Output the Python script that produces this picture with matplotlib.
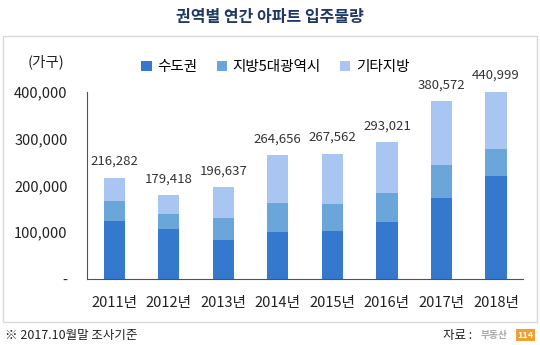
import matplotlib.pyplot as plt
from matplotlib.patches import Rectangle
import numpy as np

plt.rcParams['font.family'] = ['Noto Sans CJK KR', 'DejaVu Sans']

years = ['2011년', '2012년', '2013년', '2014년', '2015년', '2016년', '2017년', '2018년']
capital = [123000, 108000, 83500, 101300, 103400, 122700, 172800, 221000]
metro5 = [44000, 32000, 47000, 62000, 57000, 62000, 71200, 57000]
totals = [216282, 179418, 196637, 264656, 267562, 293021, 380572, 440999]
series_names = ['수도권', '지방5대광역시', '기타지방']
colors = ['#3579cf', '#6aa6d9', '#a9c5f2']

others = [t - c - m for t, c, m in zip(totals, capital, metro5)]
ymax = 400000

fig = plt.figure(figsize=(5.4, 3.45), dpi=100)
fig.patches.append(Rectangle((0.006, 0.067), 0.988, 0.83, transform=fig.transFigure,
                             fill=False, edgecolor='#d9d9d9', linewidth=1))

ax = fig.add_axes([0.161, 0.191, 0.808, 0.543])
x = np.arange(len(years))
w = 0.39
ax.bar(x, capital, w, color=colors[0], label=series_names[0])
ax.bar(x, metro5, w, bottom=capital, color=colors[1], label=series_names[1])
bottom2 = [c + m for c, m in zip(capital, metro5)]
ax.bar(x, others, w, bottom=bottom2, color=colors[2], label=series_names[2])

# 2018 bar is clipped at the axis max, label sits above the visible top
for xi, t in zip(x, totals):
    ax.annotate(f'{t:,}', (xi, min(t, ymax)), xytext=(0, 7), textcoords='offset points',
                ha='center', va='bottom', fontsize=9.5, color='#333333', annotation_clip=False)

ax.set_xlim(-0.5, len(years) - 0.5)
ax.set_ylim(0, ymax)
ax.set_yticks([0, 100000, 200000, 300000, 400000])
ax.set_yticklabels(['-', '100,000', '200,000', '300,000', '400,000'], fontsize=10.5, color='#222222')
ax.set_xticks(x)
ax.set_xticklabels(years, fontsize=10.5, color='#222222')
ax.tick_params(length=0)
ax.tick_params(axis='y', pad=14)
ax.tick_params(axis='x', pad=12)
for s in ['top', 'right']:
    ax.spines[s].set_visible(False)
ax.spines['left'].set_color('#44546a')
ax.spines['bottom'].set_color('#44546a')

fig.legend(loc='center', bbox_to_anchor=(0.51, 0.805), ncol=3, frameon=False,
           fontsize=10.5, handlelength=0.7, handleheight=0.7, columnspacing=1.3,
           handletextpad=0.4)

fig.text(0.5, 0.95, '권역별 연간 아파트 입주물량', ha='center', va='center',
         fontsize=11.5, fontweight='bold', color='#1f3864')
fig.text(0.085, 0.82, '(가구)', ha='center', va='center', fontsize=10.5, color='#222222')
fig.text(0.01, 0.028, '※ 2017.10월말 조사기준', ha='left', va='center', fontsize=9, color='#222222')
fig.text(0.875, 0.028, '자료 :', ha='right', va='center', fontsize=9, color='#222222')
fig.text(0.89, 0.028, '부동산', ha='left', va='center', fontsize=7, color='#aaaaaa', fontweight='bold')
fig.text(0.958, 0.028, '114', ha='left', va='center', fontsize=6.5, color='white', fontweight='bold',
         bbox=dict(boxstyle='square,pad=0.15', facecolor='#f0a030', edgecolor='none'))

fig.savefig('out.png', dpi=100)
